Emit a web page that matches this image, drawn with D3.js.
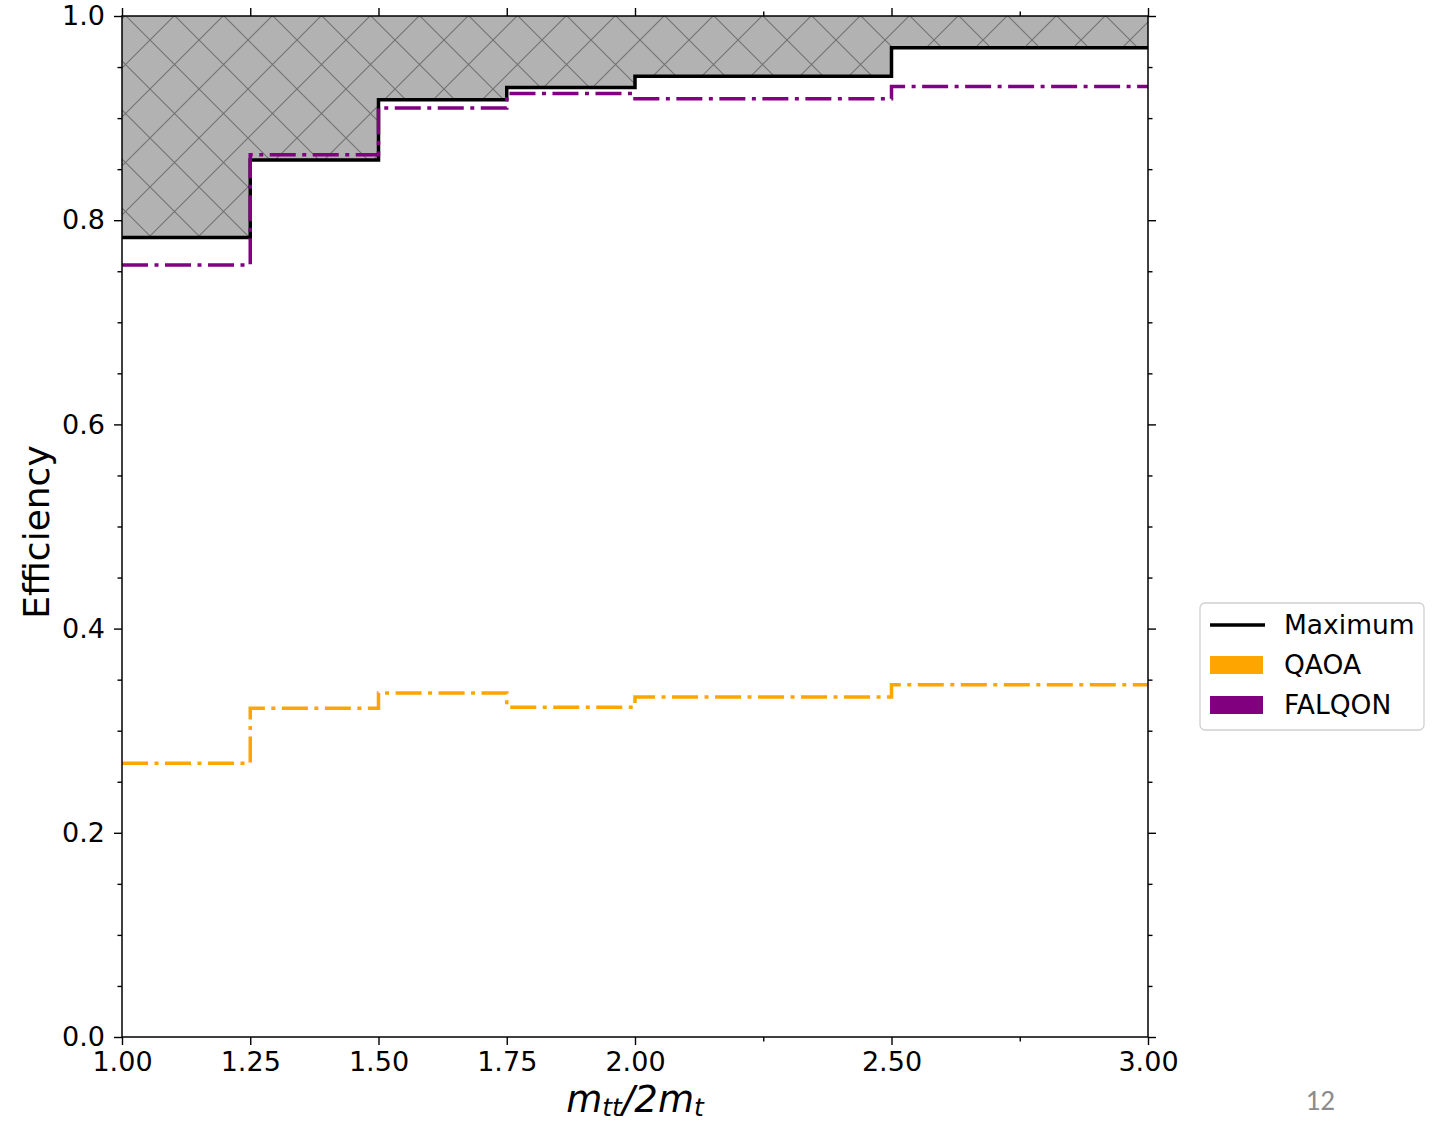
<!DOCTYPE html>
<html>
<head>
<meta charset="utf-8">
<script src="https://cdn.jsdelivr.net/npm/d3@7"></script>
<style>
  body { margin: 0; background: #fff; }
  text { font-family: "DejaVu Sans", sans-serif; }
</style>
</head>
<body>
<div id="chart"></div>
<script>
// bin edges of m_tt / 2m_t
const binEdges = [1.00, 1.25, 1.50, 1.75, 2.00, 2.50, 3.00];
// efficiency per bin
const maximumEff = [0.783, 0.859, 0.918, 0.930, 0.941, 0.969];
const falqonEff = [0.756, 0.864, 0.910, 0.924, 0.919, 0.931];
const qaoaEff = [0.268, 0.322, 0.337, 0.323, 0.333, 0.345];

const xMajorTicks = [1.00, 1.25, 1.50, 1.75, 2.00, 2.50, 3.00];
const xMinorTicks = [2.25, 2.75];
const yMajorTicks = [0.0, 0.2, 0.4, 0.6, 0.8, 1.0];
const yMinorTicks = [0.05, 0.1, 0.15, 0.25, 0.3, 0.35, 0.45, 0.5, 0.55, 0.65, 0.7, 0.75, 0.85, 0.9, 0.95];

const legendItems = [
  { name: "Maximum", color: "black", kind: "line" },
  { name: "QAOA", color: "orange", kind: "patch" },
  { name: "FALQON", color: "purple", kind: "patch" }
];

const width = 1435, height = 1121;
const margin = { left: 122, top: 16, right: 287, bottom: 84 };

const svg = d3.select("#chart").append("svg")
  .attr("width", width)
  .attr("height", height);

const x = d3.scaleLinear().domain([1, 3]).range([margin.left, width - margin.right]);
const y = d3.scaleLinear().domain([0, 1]).range([height - margin.bottom, margin.top]);

// step data: repeat last value at the right edge
function stepData(vals) {
  let pts = vals.map((v, i) => ({ x: binEdges[i], y: v }));
  pts.push({ x: binEdges[binEdges.length - 1], y: vals[vals.length - 1] });
  return pts;
}

// hatch pattern
const defs = svg.append("defs");
const p = 49;
const pat = defs.append("pattern")
  .attr("id", "xhatch")
  .attr("patternUnits", "userSpaceOnUse")
  .attr("x", 3).attr("y", 40)
  .attr("width", p).attr("height", p);
pat.append("rect").attr("width", p).attr("height", p).attr("fill", "#b2b2b2");
pat.append("path")
  .attr("d", `M0,0L${p},${p}M0,${p}L${p},0`)
  .attr("stroke", "#727272").attr("stroke-width", 1.1).attr("fill", "none");

// shaded region above maximum
const area = d3.area()
  .x(d => x(d.x))
  .y0(y(1))
  .y1(d => y(d.y))
  .curve(d3.curveStepAfter);

svg.append("path")
  .datum(stepData(maximumEff))
  .attr("d", area)
  .attr("fill", "url(#xhatch)");

const line = d3.line()
  .x(d => x(d.x))
  .y(d => y(d.y))
  .curve(d3.curveStepAfter);

const dashDot = "26,6.5,4,6.5";

svg.append("path")
  .datum(stepData(qaoaEff))
  .attr("d", line)
  .attr("fill", "none")
  .attr("stroke", "orange")
  .attr("stroke-width", 3.5)
  .attr("stroke-dasharray", dashDot);

svg.append("path")
  .datum(stepData(maximumEff))
  .attr("d", line)
  .attr("fill", "none")
  .attr("stroke", "black")
  .attr("stroke-width", 3.5);

svg.append("path")
  .datum(stepData(falqonEff))
  .attr("d", line)
  .attr("fill", "none")
  .attr("stroke", "purple")
  .attr("stroke-width", 3.5)
  .attr("stroke-dasharray", dashDot);

// axes
const fmtX = d3.format(".2f"), fmtY = d3.format(".1f");
const tickFont = 27;

function styleAxis(g) {
  g.select(".domain").remove();
  g.selectAll(".tick line").attr("stroke", "black").attr("stroke-width", 1.4);
  g.selectAll(".tick text").attr("font-size", tickFont).attr("fill", "black")
    .style("font-family", "DejaVu Sans");
}

const plotBottom = y(0), plotTop = y(1), plotLeft = x(1), plotRight = x(3);

svg.append("g").attr("transform", `translate(0,${plotBottom})`)
  .call(d3.axisBottom(x).tickValues(xMajorTicks).tickFormat(fmtX).tickSize(8).tickPadding(7))
  .call(styleAxis);
svg.append("g").attr("transform", `translate(0,${plotBottom})`)
  .call(d3.axisBottom(x).tickValues(xMinorTicks).tickFormat("").tickSize(4.5))
  .call(styleAxis);
svg.append("g").attr("transform", `translate(0,${plotTop})`)
  .call(d3.axisTop(x).tickValues(xMajorTicks).tickFormat("").tickSize(8))
  .call(styleAxis);
svg.append("g").attr("transform", `translate(0,${plotTop})`)
  .call(d3.axisTop(x).tickValues(xMinorTicks).tickFormat("").tickSize(4.5))
  .call(styleAxis);

svg.append("g").attr("transform", `translate(${plotLeft},0)`)
  .call(d3.axisLeft(y).tickValues(yMajorTicks).tickFormat(fmtY).tickSize(8).tickPadding(9))
  .call(styleAxis);
svg.append("g").attr("transform", `translate(${plotLeft},0)`)
  .call(d3.axisLeft(y).tickValues(yMinorTicks).tickFormat("").tickSize(4.5))
  .call(styleAxis);
svg.append("g").attr("transform", `translate(${plotRight},0)`)
  .call(d3.axisRight(y).tickValues(yMajorTicks).tickFormat("").tickSize(8))
  .call(styleAxis);
svg.append("g").attr("transform", `translate(${plotRight},0)`)
  .call(d3.axisRight(y).tickValues(yMinorTicks).tickFormat("").tickSize(4.5))
  .call(styleAxis);

// frame
svg.append("rect")
  .attr("x", plotLeft).attr("y", plotTop)
  .attr("width", plotRight - plotLeft).attr("height", plotBottom - plotTop)
  .attr("fill", "none").attr("stroke", "black").attr("stroke-width", 1.5);

// axis labels
svg.append("text")
  .attr("transform", `translate(49,532) rotate(-90)`)
  .attr("text-anchor", "middle")
  .attr("font-size", 36)
  .text("Efficiency");

const xl = svg.append("text")
  .attr("x", (plotLeft + plotRight) / 2).attr("y", 1112)
  .attr("text-anchor", "middle")
  .attr("font-size", 37)
  .attr("font-style", "italic");
xl.append("tspan").text("m");
xl.append("tspan").attr("font-size", 25).attr("dy", 4).text("tt");
xl.append("tspan").attr("dy", -4).text("/2m");
xl.append("tspan").attr("font-size", 25).attr("dy", 4).text("t");

// legend
const lg = svg.append("g").attr("transform", "translate(1200,603)");
lg.append("rect")
  .attr("width", 224).attr("height", 127).attr("rx", 5)
  .attr("fill", "white").attr("stroke", "#d0d0d0").attr("stroke-width", 1.3);
legendItems.forEach((d, i) => {
  const cy = 22 + i * 40;
  if (d.kind === "line") {
    lg.append("line").attr("x1", 10).attr("x2", 65).attr("y1", cy).attr("y2", cy)
      .attr("stroke", d.color).attr("stroke-width", 3.5);
  } else {
    lg.append("rect").attr("x", 10).attr("y", cy - 9).attr("width", 53).attr("height", 18)
      .attr("fill", d.color);
  }
  lg.append("text").attr("x", 84).attr("y", cy + 9).attr("font-size", 26.5).text(d.name);
});

// slide page number
svg.append("text")
  .attr("x", 1335).attr("y", 1110)
  .attr("text-anchor", "end")
  .attr("font-size", 29)
  .attr("fill", "#8c8c8c")
  .style("font-family", "Carlito, 'Liberation Sans', sans-serif")
  .text("12");
</script>
</body>
</html>
